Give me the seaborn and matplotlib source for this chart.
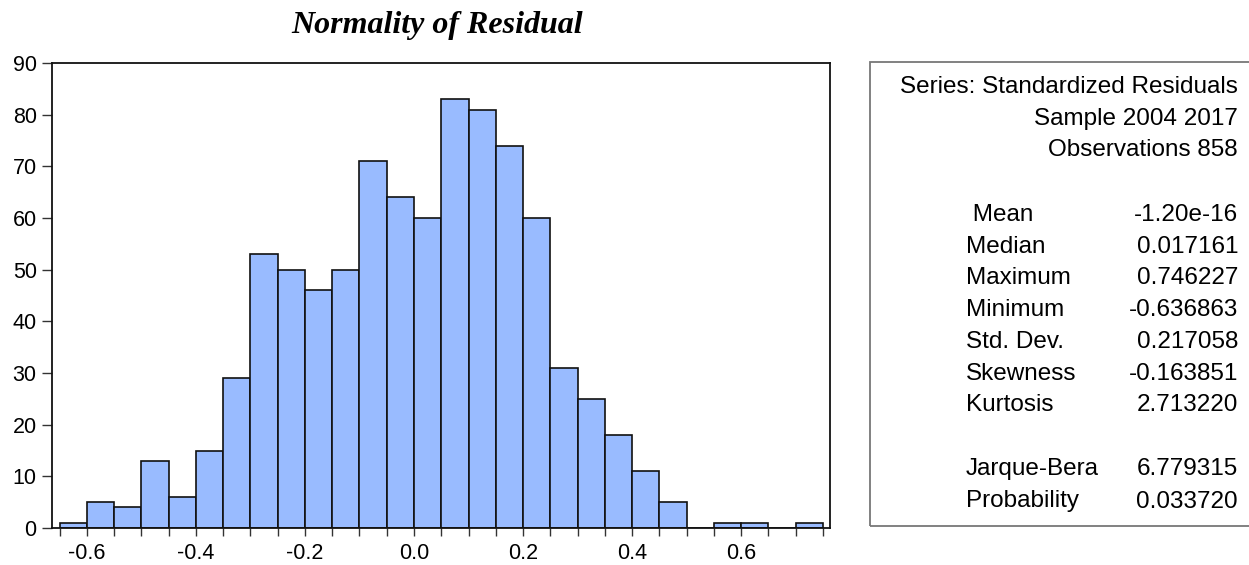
from matplotlib import pyplot as plt
from matplotlib.patches import Rectangle
import seaborn as sns
import numpy as np
import pandas as pd

# histogram bins (left edges, width 0.05) and counts
bin_left = [-0.65, -0.60, -0.55, -0.50, -0.45, -0.40, -0.35, -0.30, -0.25, -0.20,
            -0.15, -0.10, -0.05, 0.00, 0.05, 0.10, 0.15, 0.20, 0.25, 0.30,
            0.35, 0.40, 0.45, 0.50, 0.55, 0.60, 0.65, 0.70]
counts = [1, 5, 4, 13, 6, 15, 29, 53, 50, 46,
          50, 71, 64, 60, 83, 81, 74, 60, 31, 25,
          18, 11, 5, 0, 1, 1, 0, 1]
bin_width = 0.05

x_ticks = [-0.6, -0.4, -0.2, 0.0, 0.2, 0.4, 0.6]
y_ticks = [0, 10, 20, 30, 40, 50, 60, 70, 80, 90]

header_lines = ["Series: Standardized Residuals", "Sample 2004 2017", "Observations 858"]
stat_names = [" Mean", "Median", "Maximum", "Minimum", "Std. Dev.", "Skewness", "Kurtosis"]
stat_values = ["-1.20e-16", "0.017161", "0.746227", "-0.636863", "0.217058", "-0.163851", "2.713220"]
test_names = ["Jarque-Bera", "Probability"]
test_values = ["6.779315", "0.033720"]

sns.set_style("white")
plt.rcParams['font.family'] = ['Liberation Sans', 'DejaVu Sans']
plt.rcParams['text.color'] = 'black'
plt.rcParams['xtick.color'] = 'black'
plt.rcParams['ytick.color'] = 'black'

df = pd.DataFrame({'x': np.array(bin_left) + bin_width / 2, 'count': counts})
edges = list(bin_left) + [bin_left[-1] + bin_width]

fig = plt.figure(figsize=(12.49, 5.65), dpi=100)
ax = fig.add_axes([52 / 1249, 37 / 565, 778 / 1249, 465 / 565])

sns.histplot(data=df, x='x', weights='count', bins=edges, ax=ax,
             color='#99BBFF', alpha=1, edgecolor='#111111', linewidth=1.2)

ax.set_xlim(-0.664, 0.763)
ax.set_ylim(0, 90)
ax.set_xticks(x_ticks)
ax.set_xticklabels([f"{t:.1f}" for t in x_ticks])
ax.set_xticks(edges, minor=True)
ax.set_yticks(y_ticks)
ax.tick_params(axis='x', which='both', direction='out', length=6, width=1,
               color='#333333', labelsize=15.5, pad=5, bottom=True)
ax.tick_params(axis='y', direction='out', length=7, width=1,
               color='#333333', labelsize=15.5, pad=4, left=True)
ax.set_xlabel('')
ax.set_ylabel('')
for side in ['left', 'right', 'top', 'bottom']:
    ax.spines[side].set_visible(True)
    ax.spines[side].set_color('#111111')
    ax.spines[side].set_linewidth(1.3)

fig.text(437 / 1249, 1 - 25 / 565, "Normality of Residual", ha='center', va='center',
         fontsize=23, fontweight='bold', fontstyle='italic', family='Liberation Serif')

# statistics box
fig.patches.append(Rectangle((870 / 1249, 39.5 / 565), 400 / 1249, 463.5 / 565,
                             transform=fig.transFigure, fill=False,
                             edgecolor='#777777', linewidth=1.3))

fs = 17.5
x_right = 1238 / 1249
x_left = 966 / 1249
for i, line in enumerate(header_lines):
    y = 87 + i * 31.7
    fig.text(x_right, 1 - y / 565, line, ha='right', va='center', fontsize=fs)
for i, (n, v) in enumerate(zip(stat_names, stat_values)):
    y = 215 + i * 31.7
    fig.text(x_left, 1 - y / 565, n, ha='left', va='center', fontsize=fs)
    fig.text(x_right, 1 - y / 565, v, ha='right', va='center', fontsize=fs)
for i, (n, v) in enumerate(zip(test_names, test_values)):
    y = 469 + i * 32.5
    fig.text(x_left, 1 - y / 565, n, ha='left', va='center', fontsize=fs)
    fig.text(x_right, 1 - y / 565, v, ha='right', va='center', fontsize=fs)

fig.savefig('out.png', dpi=100)
